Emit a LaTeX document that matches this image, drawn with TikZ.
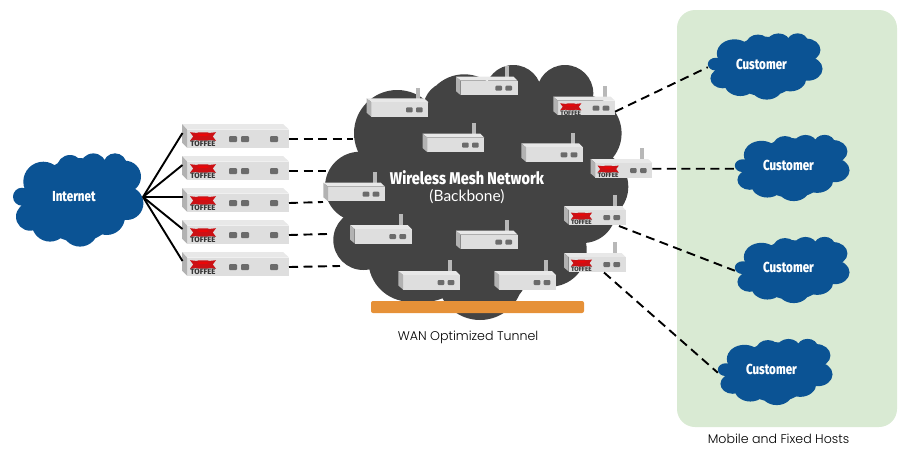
\documentclass[tikz,border=0pt]{standalone}
\usepackage{fontspec}
\setmainfont{Poppins Light}
\newfontfamily\heavyfont{Fira Sans ExtraBold}
\newfontfamily\thinfont{Lato}

\definecolor{cloudblue}{HTML}{0B5394}
\definecolor{meshgray}{HTML}{434343}
\definecolor{tunnelorange}{HTML}{E69138}
\definecolor{hostgreen}{HTML}{D9EAD3}
\definecolor{candyred}{HTML}{CC1014}

\tikzset{
  dashlink/.style={draw=black, line width=1.9pt, dash pattern=on 9pt off 5.5pt},
  cablelink/.style={draw=black, line width=1.9pt},
  boxfront/.style={fill=black!13},
  boxtop/.style={fill=black!9},
  boxside/.style={fill=black!30},
  portfill/.style={fill=black!58, rounded corners=1pt},
  % cloud with a centred white label
  pics/bluecloud/.style={code={
    \fill[cloudblue] (-34.7,-18.3) circle (20) (-56,-3.3) circle (9) (-48,16.7) circle (14)
      (-28,23.3) circle (18.3) (2,28.3) circle (18.3) (28.7,16.7) circle (18.3)
      (48.7,3.3) circle (16.7) (47,-23.3) circle (16) (37,-35) circle (11.7)
      (15.3,-33.3) circle (13.3) (-8,-31.7) circle (13.3) (0,0) circle (42) (-38,2) circle (18);
    \coordinate (-w) at (-65,1);
    \coordinate (-e) at (65,-3);
    \node[text=white, inner sep=0pt] (-label) at (-4,-3)
      {\scalebox{.8}[1]{\heavyfont\fontsize{14.5}{14.5}\selectfont #1}};
  }},
  % candy logo with the brand name under it
  pics/candylogo/.style={code={
    \fill[candyred] (0,0.2) -- (9,1.2) -- (9,7.8) -- (0,8.8) -- (3.2,4.5) -- cycle;
    \fill[candyred] (26,0.2) -- (17,1.2) -- (17,7.8) -- (26,8.8) -- (22.8,4.5) -- cycle;
    \fill[candyred, rounded corners=3pt] (5.5,0.3) rectangle (20.5,8.7);
    \fill[red!60!candyred] (13,3) ellipse (6.5 and 1);
    \node[inner sep=0pt, text=black!78, transform shape] (-brand) at (13,11.8)
      {\heavyfont\fontsize{7.8}{7.8}\selectfont TOFFEE};
  }},
  % small box with an antenna
  pics/meshbox/.style={code={
    \fill[black!28] (49.3,-10.6) rectangle (53.3,1);
    \fill[boxtop] (0,0) -- (57.5,0) -- (61.7,4) -- (4.7,4) -- cycle;
    \fill[boxfront] (4.7,4) rectangle (61.7,18.5);
    \fill[boxside] (0,0) -- (4.7,4) -- (4.7,18.5) -- (0,14.5) -- cycle;
    \fill[portfill] (39.3,9) rectangle (46,14);
    \fill[portfill] (49.3,9) rectangle (56,14);
    \coordinate (-e) at (61.7,15);
    \coordinate (-m) at (61.7,9.7);
    \coordinate (-s) at (55,20);
    \coordinate (-b) at (40,19.5);
  }},
  % same box carrying the logo
  pics/toffeebox/.style={code={
    \pic {meshbox};
    \pic[scale=.82] at (6.8,6.4) {candylogo};
  }},
  % long rack unit, no antenna
  pics/rackbox/.style={code={
    \fill[boxtop] (0,0) -- (101,0) -- (107,5.5) -- (5,5.5) -- cycle;
    \fill[boxfront] (5,5.5) rectangle (107,23.5);
    \fill[boxside] (0,0) -- (5,5.5) -- (5,23.5) -- (0,18.5) -- cycle;
    \pic at (8,8) {candylogo};
    \fill[portfill] (47,12) rectangle (55,18);
    \fill[portfill] (59,12) rectangle (67,18);
    \fill[portfill] (88,12) rectangle (96,18);
    \coordinate (-w) at (0.5,9);
    \coordinate (-e) at (107,15);
  }},
}

\begin{document}
\begin{tikzpicture}[x=1pt, y=-1pt]
  \useasboundingbox (0,0) rectangle (913,453);

  % hosts panel
  \node[fill=hostgreen, rounded corners=18pt, minimum width=220pt, minimum height=417pt, inner sep=0pt] (hosts) at (787,218.5) {};
  \node[inner sep=0pt] (hostslabel) at (778.5,439) {\fontsize{12.6}{14}\selectfont Mobile and Fixed Hosts};

  % mesh backbone cloud
  \fill[meshgray] (397.3,133.3) circle (43.3) (464.3,115) circle (40.7) (450,108.3) circle (26.7)
    (513.3,93.3) circle (28.3) (565,93.3) circle (28.3) (583.3,133.3) circle (38.3) (593.3,186.7) circle (35)
    (583,210) circle (33) (550,250) circle (36.7) (480,276.7) circle (43.3) (490,270) circle (38.3)
    (410,260) circle (41.7) (426.7,263.3) circle (38.3) (363.3,240) circle (30) (360,186.7) circle (35)
    (390,215) circle (40) (480,185) circle (100);
  \coordinate (edge1) at (353,139);
  \coordinate (edge2) at (326,171);
  \coordinate (edge3) at (323,202);
  \coordinate (edge4) at (327,234);
  \coordinate (edge5) at (340,266);

  \node[text=white, inner sep=0pt] (meshtitle) at (467,177.7)
    {\scalebox{.85}[1]{\heavyfont\fontsize{17}{17}\selectfont Wireless Mesh Network}};
  \node[text=white, inner sep=0pt] (meshsub) at (467,197) {\thinfont\fontsize{15.5}{16}\selectfont (Backbone)};

  % tunnel bar
  \node[fill=tunnelorange, rounded corners=2pt, minimum width=213pt, minimum height=12pt, inner sep=0pt] (tunnel) at (477.5,307) {};
  \node[inner sep=0pt] (tunnellabel) at (468,337) {\fontsize{12.6}{14}\selectfont WAN Optimized Tunnel};

  % mesh boxes
  \pic (m1) at (366.7,98.3) {meshbox};
  \pic (m2) at (456,76.7) {meshbox};
  \pic (m3) at (422.7,133.7) {meshbox};
  \pic (m4) at (521.3,143.3) {meshbox};
  \pic (m5) at (323.3,182.7) {meshbox};
  \pic (m6) at (350,225) {meshbox};
  \pic (m7) at (456,230.7) {meshbox};
  \pic (m8) at (398.3,271) {meshbox};
  \pic (m9) at (494.3,271) {meshbox};

  % exit boxes
  \pic (t1) at (553.3,96.7) {toffeebox};
  \pic (t2) at (590.7,159) {toffeebox};
  \pic (t3) at (564,206) {toffeebox};
  \pic (t4) at (564,253) {toffeebox};

  % rack units
  \pic (r1) at (182,124) {rackbox};
  \pic (r2) at (182,156) {rackbox};
  \pic (r3) at (182,188) {rackbox};
  \pic (r4) at (182,220) {rackbox};
  \pic (r5) at (182,252) {rackbox};

  % clouds
  \pic (inet) at (78,200) {bluecloud=Internet};
  \pic[xscale=.88, yscale=.71] (c1) at (765,66.5) {bluecloud=Customer};
  \pic[xscale=.88, yscale=.71] (c2) at (792,168) {bluecloud=Customer};
  \pic[xscale=.88, yscale=.71] (c3) at (792,270) {bluecloud=Customer};
  \pic[xscale=.88, yscale=.71] (c4) at (775,372) {bluecloud=Customer};

  % uplinks
  \draw[cablelink] (inet-e) -- (r1-w);
  \draw[cablelink] (inet-e) -- (r2-w);
  \draw[cablelink] (inet-e) -- (r3-w);
  \draw[cablelink] (inet-e) -- (r4-w);
  \draw[cablelink] (inet-e) -- (r5-w);

  % tunnels into the mesh
  \draw[dashlink] (r1-e) -- (edge1);
  \draw[dashlink] (r2-e) -- (edge2);
  \draw[dashlink] (r3-e) -- (edge3);
  \draw[dashlink] (r4-e) -- (edge4);
  \draw[dashlink] (r5-e) -- (edge5);

  % customer links
  \draw[dashlink] (t1-e) -- (c1-w);
  \draw[dashlink] (t2-m) -- (c2-w);
  \draw[dashlink] (t3-s) -- (c3-w);
  \draw[dashlink] (t4-b) -- (c4-w);
\end{tikzpicture}
\end{document}
